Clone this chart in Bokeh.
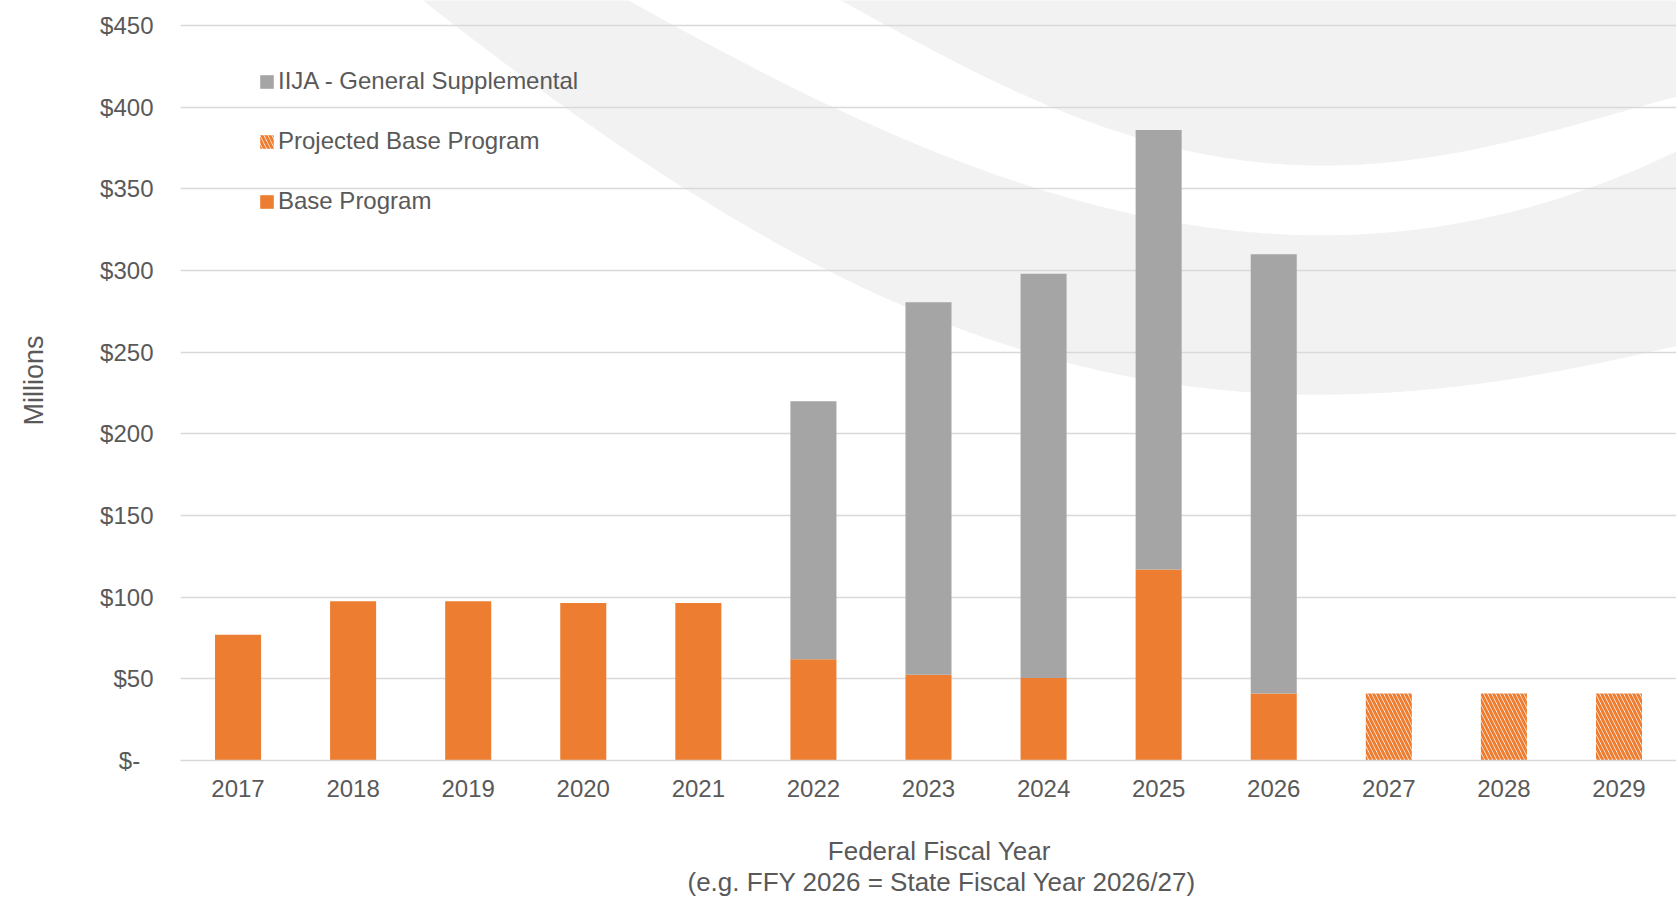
import numpy as np
from bokeh.plotting import figure
from bokeh.models import Range1d, FixedTicker, Legend, LegendItem, Title, ColumnDataSource
from bokeh.embed import file_html
from bokeh.resources import INLINE

# ---------------- data ----------------
years = ["2017", "2018", "2019", "2020", "2021", "2022", "2023",
         "2024", "2025", "2026", "2027", "2028", "2029"]
base_program = [77, 97.5, 97.5, 96.5, 96.5, 62, 52.5, 50.5, 117, 41, 0, 0, 0]
iija_general_supplemental = [0, 0, 0, 0, 0, 158, 228, 247.5, 269, 269, 0, 0, 0]
projected_base_program = [0, 0, 0, 0, 0, 0, 0, 0, 0, 0, 41, 41, 41]
y_ticks = [0, 50, 100, 150, 200, 250, 300, 350, 400, 450]
y_tick_labels = ["$-\u00a0\u00a0", "$50", "$100", "$150", "$200", "$250",
                 "$300", "$350", "$400", "$450"]

ORANGE = "#ED7D31"
GREY = "#A5A5A5"
TEXT = "#595959"
GRID = "#D9D9D9"
BAND = "#F2F2F2"
FONT = "Liberation Sans"

# ---------------- layout (pixels in the page image) ----------------
W, H = 1676, 898
IMG_L, IMG_R, IMG_T, IMG_B = 180, 1676, 0, 760      # frame edges in page px
Y_TOP_TICK_PX = 25                                   # where 450 sits
PX_PER_UNIT = (IMG_B - Y_TOP_TICK_PX) / 450.0
N = len(years)
PX_PER_CAT = (IMG_R - IMG_L) / N
Y_END = (IMG_B - IMG_T) / PX_PER_UNIT


def px_x(xp):
    return (np.asarray(xp, dtype=float) - IMG_L) / PX_PER_CAT - 0.5


def px_y(yp):
    return (IMG_B - np.asarray(yp, dtype=float)) / PX_PER_UNIT


p = figure(width=W, height=H, output_backend="svg", toolbar_location=None,
           x_range=Range1d(-0.5, N - 0.5), y_range=Range1d(0, Y_END),
           min_border_left=IMG_L, min_border_right=W - IMG_R,
           min_border_top=0, min_border_bottom=H - IMG_B)
p.outline_line_color = None
p.background_fill_color = "white"
p.border_fill_color = "white"

# ---------------- decorative background bands ----------------
def curve(pts, x0, x1):
    pts = np.array(pts, dtype=float)
    c = np.polyfit(pts[:, 0] / 1000.0, pts[:, 1], 4)
    xs = np.linspace(x0, x1, 160)
    return xs, np.polyval(c, xs / 1000.0)

edge_a = [(420, 0), (533, 80), (648, 165), (763, 238), (877, 297), (980, 333),
          (1100, 368), (1210, 387), (1340, 398), (1505, 378), (1678, 345)]
edge_b = [(629, 0), (724, 53), (839, 110), (980, 167), (1100, 207), (1310, 235),
          (1550, 200), (1678, 150)]
edge_c = [(839, 0), (916, 40), (980, 73), (1100, 128), (1250, 160), (1340, 164),
          (1483, 147), (1583, 123), (1678, 95)]

ax, ay = curve(edge_a, 400, 1690)
bx, by = curve(edge_b, 610, 1690)
cx, cy = curve(edge_c, 820, 1690)

band1_x = np.concatenate([ax, bx[::-1], [610, 400]])
band1_y = np.concatenate([ay, by[::-1], [-40, -40]])
band2_x = np.concatenate([cx, [1690, 820]])
band2_y = np.concatenate([cy, [-40, -40]])

p.patches(xs=[list(px_x(band1_x)), list(px_x(band2_x))],
          ys=[list(px_y(band1_y)), list(px_y(band2_y))],
          fill_color=BAND, line_color=None, level="image")

# ---------------- bars ----------------
idx = list(range(N))
src = ColumnDataSource(dict(
    x=idx,
    base=base_program,
    top_iija=[b + g for b, g in zip(base_program, iija_general_supplemental)],
    proj=projected_base_program,
))
BW = 0.40
r_base = p.vbar(x="x", top="base", bottom=0, width=BW, source=src,
                fill_color=ORANGE, line_color=None)
r_iija = p.vbar(x="x", top="top_iija", bottom="base", width=BW, source=src,
                fill_color=GREY, line_color=None)
r_proj = p.vbar(x="x", top="proj", bottom=0, width=BW, source=src,
                fill_color="white", line_color=None,
                hatch_pattern="left_diagonal_line", hatch_color=ORANGE,
                hatch_scale=8, hatch_weight=3)

# ---------------- axes / grid ----------------
p.xgrid.visible = False
p.ygrid.grid_line_color = GRID
p.ygrid.grid_line_width = 1.5
p.ygrid.ticker = FixedTicker(ticks=y_ticks)

p.yaxis.ticker = FixedTicker(ticks=y_ticks)
p.yaxis.major_label_overrides = {t: l for t, l in zip(y_ticks, y_tick_labels)}
p.yaxis.axis_line_color = None
p.yaxis.major_tick_line_color = None
p.yaxis.minor_tick_line_color = None
p.yaxis.major_tick_out = 0
p.yaxis.major_tick_in = 0
p.yaxis.minor_tick_out = 0
p.yaxis.minor_tick_in = 0
p.yaxis.major_label_standoff = 27
p.yaxis.major_label_text_font = FONT
p.yaxis.major_label_text_font_size = "24px"
p.yaxis.major_label_text_color = TEXT
p.yaxis.axis_label = "Millions"
p.yaxis.axis_label_text_font = FONT
p.yaxis.axis_label_text_font_size = "27px"
p.yaxis.axis_label_text_font_style = "normal"
p.yaxis.axis_label_text_color = TEXT
p.yaxis.axis_label_standoff = 48

p.xaxis.ticker = FixedTicker(ticks=idx)
p.xaxis.major_label_overrides = {i: y for i, y in zip(idx, years)}
p.xaxis.axis_line_color = GRID
p.xaxis.axis_line_width = 1.5
p.xaxis.major_tick_line_color = None
p.xaxis.minor_tick_line_color = None
p.xaxis.major_tick_out = 0
p.xaxis.major_tick_in = 0
p.xaxis.minor_tick_out = 0
p.xaxis.minor_tick_in = 0
p.xaxis.major_label_standoff = 19
p.xaxis.major_label_text_font = FONT
p.xaxis.major_label_text_font_size = "24px"
p.xaxis.major_label_text_color = TEXT

# x-axis title (two lines): first line as the axis label, second as a title
p.xaxis.axis_label = "\u00a0\u00a0\u00a0Federal Fiscal Year"
p.xaxis.axis_label_text_font = FONT
p.xaxis.axis_label_text_font_size = "26px"
p.xaxis.axis_label_text_font_style = "normal"
p.xaxis.axis_label_text_color = TEXT
p.xaxis.axis_label_standoff = 36

t2 = Title(text="(e.g. FFY 2026 = State Fiscal Year 2026/27)", align="left",
           offset=507, text_font=FONT, text_font_size="26px",
           text_font_style="normal", text_color=TEXT, standoff=-8)
p.add_layout(t2, "below")

# ---------------- legend ----------------
legend = Legend(items=[
    LegendItem(label="IIJA - General Supplemental", renderers=[r_iija]),
    LegendItem(label="Projected Base Program", renderers=[r_proj]),
    LegendItem(label="Base Program", renderers=[r_base]),
], location=(78, 545), orientation="vertical",
    glyph_width=17, glyph_height=17, label_height=26, spacing=32,
    padding=0, margin=0, label_standoff=3,
    label_text_font=FONT, label_text_font_size="24px", label_text_color=TEXT,
    border_line_color=None, background_fill_alpha=0)
p.add_layout(legend)

open("out.html", "w").write(file_html(p, INLINE))
